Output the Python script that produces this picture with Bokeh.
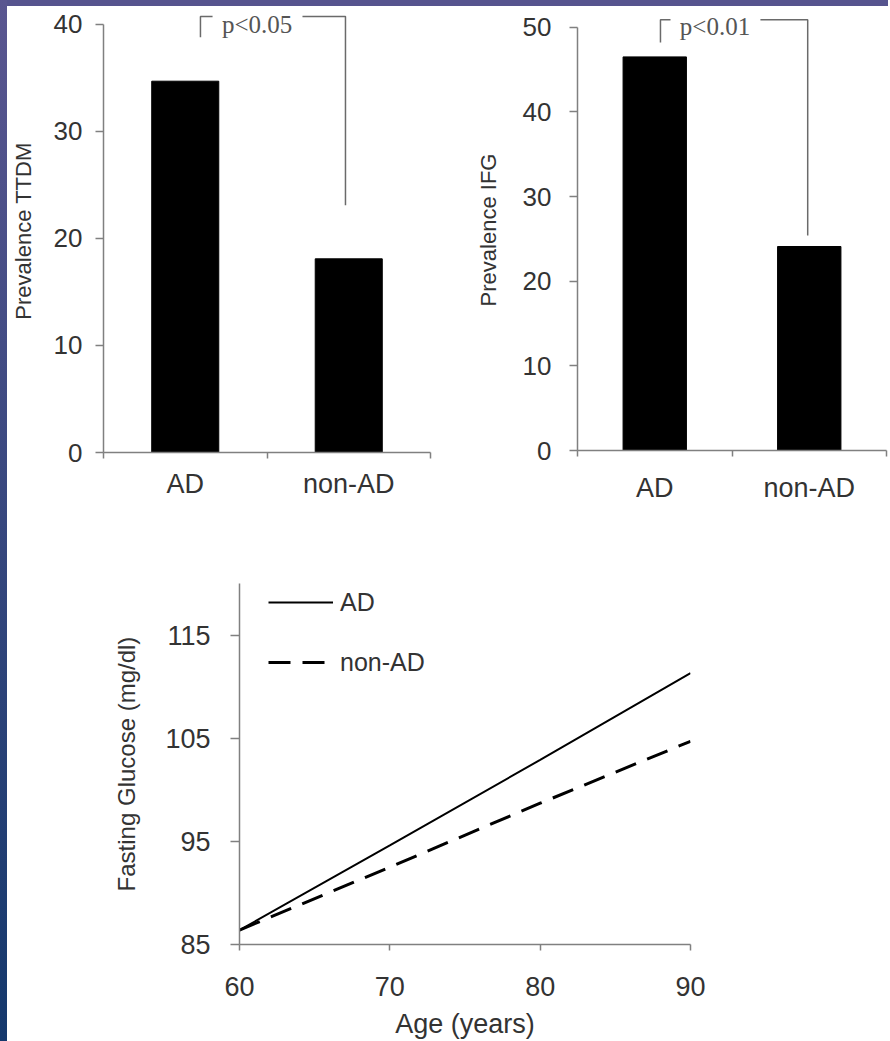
from bokeh.plotting import figure
from bokeh.layouts import column, row
from bokeh.models import Range1d, FixedTicker, Legend, LegendItem, Div
from bokeh.embed import file_html
from bokeh.resources import INLINE
from bokeh.core.properties import value

# ---------------- data ----------------
categories = ["AD", "non-AD"]
ttdm_prevalence = [34.7, 18.1]
ifg_prevalence = [46.5, 24.1]
ttdm_ticks = [0, 10, 20, 30, 40]
ifg_ticks = [0, 10, 20, 30, 40, 50]
ttdm_p = "p<0.05"
ifg_p = "p<0.01"

ages = [60, 70, 80, 90]
glucose_ad = [86.4, 94.6, 102.9, 111.3]
glucose_nonad = [86.4, 92.5, 98.7, 104.7]
age_ticks = [60, 70, 80, 90]
glucose_ticks = [85, 95, 105, 115]

SANS = "Liberation Sans"
SERIF = "Liberation Serif"
TXT = "#333333"
AX = "#808080"


def style_axes(p):
    p.grid.visible = False
    p.outline_line_color = None
    p.background_fill_color = "white"
    p.border_fill_color = "white"
    for ax in (p.xaxis[0], p.yaxis[0]):
        ax.axis_line_color = AX
        ax.axis_line_width = 1.5
        ax.major_tick_line_color = AX
        ax.minor_tick_line_color = AX
        ax.major_tick_line_width = 1.5
        ax.minor_tick_line_width = 1.5
        ax.major_tick_in = 0
        ax.minor_tick_in = 0
        ax.major_label_text_color = TXT
        ax.major_label_text_font = SANS
        ax.axis_label_text_color = TXT
        ax.axis_label_text_font = SANS
        ax.axis_label_text_font_style = "normal"


def bar_panel(vals, yticks, ylabel, ytop, pval, bracket, text_xy,
              fw, fh, bl, br, bt, bb, ystand, xstand, lstand):
    n = len(categories)
    p = figure(frame_width=fw, frame_height=fh,
               min_border_left=bl, min_border_right=br,
               min_border_top=bt, min_border_bottom=bb,
               x_range=Range1d(0, n), y_range=Range1d(0, ytop),
               output_backend="svg", toolbar_location=None)
    style_axes(p)
    xs = [i + 0.5 for i in range(n)]
    p.vbar(x=xs, top=vals, width=0.41, bottom=0,
           fill_color="black", line_color="black")

    xa = p.xaxis[0]
    xa.ticker = FixedTicker(ticks=xs, minor_ticks=list(range(n + 1)))
    xa.major_label_overrides = {x: c for x, c in zip(xs, categories)}
    xa.bounds = (0, n)
    xa.major_tick_out = 0
    xa.minor_tick_out = 6
    xa.major_label_text_font_size = "27px"
    xa.major_label_standoff = xstand

    ya = p.yaxis[0]
    ya.ticker = FixedTicker(ticks=yticks, minor_ticks=[])
    ya.bounds = (0, yticks[-1])
    ya.major_tick_out = 8
    ya.minor_tick_out = 0
    ya.major_label_text_font_size = "26px"
    ya.major_label_standoff = ystand
    ya.axis_label = ylabel
    ya.axis_label_text_font_size = "22px"
    ya.axis_label_standoff = lstand

    # significance bracket
    (lx, ly0, top, gl, gr, rx, ry0) = bracket
    p.multi_line(xs=[[lx, lx, gl], [gr, rx, rx]],
                 ys=[[ly0, top, top], [top, top, ry0]],
                 line_color="#6a6a6a", line_width=1.5)
    p.text(x=[text_xy[0]], y=[text_xy[1]], text=[pval],
           text_font=value(SERIF), text_font_size="25px",
           text_color="#555555", text_align="center",
           text_baseline="middle")
    return p


p1 = bar_panel(ttdm_prevalence, ttdm_ticks, "Prevalence TTDM", 41.4, ttdm_p,
               (0.593, 38.8, 40.75, 0.667, 1.217, 1.48, 23.1), (0.94, 40.0),
               fw=327, fh=443, bl=96, br=12, bt=3, bb=78,
               ystand=13, xstand=10, lstand=15)
p2 = bar_panel(ifg_prevalence, ifg_ticks, "Prevalence IFG", 52.1, ifg_p,
               (0.537, 48.2, 50.9, 0.602, 1.184, 1.49, 25.4), (0.89, 50.1),
               fw=309, fh=441, bl=135, br=2, bt=3, bb=80,
               ystand=18, xstand=16, lstand=19)

# ---------------- line chart ----------------
p3 = figure(frame_width=451, frame_height=361,
            min_border_left=232, min_border_right=198,
            min_border_top=53, min_border_bottom=96,
            x_range=Range1d(60, 90), y_range=Range1d(85, 120),
            output_backend="svg", toolbar_location=None)
style_axes(p3)
r_ad = p3.line(ages, glucose_ad, line_color="black", line_width=2)
r_non = p3.line(ages, glucose_nonad, line_color="black", line_width=3,
                line_dash="22 12")

xa = p3.xaxis[0]
xa.ticker = FixedTicker(ticks=age_ticks, minor_ticks=[])
xa.major_tick_out = 6
xa.minor_tick_out = 0
xa.major_label_text_font_size = "27px"
xa.major_label_standoff = 26
xa.axis_label = "Age (years)"
xa.axis_label_text_font_size = "27px"
xa.axis_label_standoff = 10

ya = p3.yaxis[0]
ya.ticker = FixedTicker(ticks=glucose_ticks, minor_ticks=[])
ya.major_tick_out = 9
ya.minor_tick_out = 0
ya.major_label_text_font_size = "27px"
ya.major_label_standoff = 20
ya.axis_label = "Fasting Glucose (mg/dl)"
ya.axis_label_text_font_size = "24px"
ya.axis_label_standoff = 22

legend = Legend(items=[LegendItem(label="AD", renderers=[r_ad]),
                       LegendItem(label="non-AD", renderers=[r_non])],
                location=(29, 267), orientation="vertical",
                glyph_width=65, glyph_height=30, label_height=30,
                label_standoff=7, spacing=30, padding=0, margin=0,
                border_line_color=None, background_fill_alpha=0,
                label_text_font=SANS, label_text_font_size="25px",
                label_text_color=TXT)
p3.add_layout(legend)

# slide background frame (purple/blue strips at left and top)
left_strip = Div(text="", width=7, height=1041, margin=0,
                 styles={"background": "linear-gradient(to bottom, #5a5690, #14386c)"})
top_strip = Div(text="", width=881, height=6, margin=0,
                styles={"background": "#56548e"})

layout = row(left_strip, column(top_strip, row(p1, p2), p3))
open("out.html", "w").write(file_html(layout, INLINE))
